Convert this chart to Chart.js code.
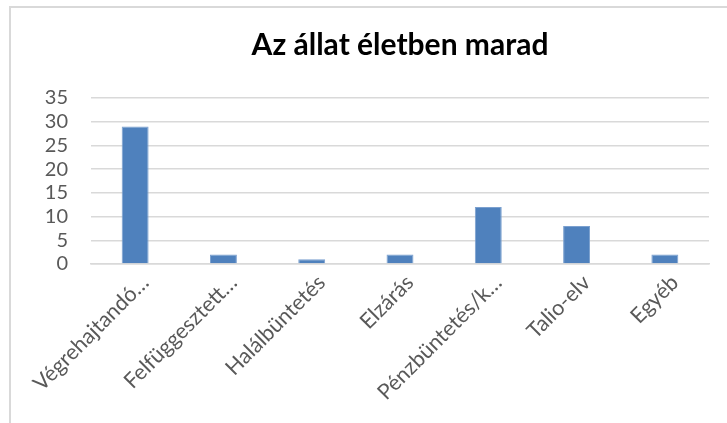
<!DOCTYPE html>
<html>
<head>
<meta charset="utf-8">
<script src="https://cdn.jsdelivr.net/npm/chart.js@4.4.1/dist/chart.umd.min.js"></script>
<style>
  html, body { margin: 0; padding: 0; background: #fff; }
  #wrap { position: absolute; left: 0; top: 0; width: 727px; height: 423px; overflow: hidden; }
  #frame { position: absolute; left: 9px; top: 6px; width: 800px; height: 500px;
           border-left: 2px solid #d9d9d9; border-top: 2px solid #d9d9d9; }
  canvas { position: absolute; left: 0; top: 0; }
</style>
</head>
<body>
<div id="wrap">
  <div id="frame"></div>
  <canvas id="c" width="727" height="423"></canvas>
</div>
<script>
const chartTitle = "Az állat életben marad";
const categories = ["Végrehajtandó…", "Felfüggesztett…", "Halálbüntetés", "Elzárás", "Pénzbüntetés/k…", "Talio-elv", "Egyéb"];
const values = [29, 2, 1, 2, 12, 8, 2];
const yTicks = [0, 5, 10, 15, 20, 25, 30, 35];

const FONT = "Lato, 'Open Sans', sans-serif";

new Chart(document.getElementById('c'), {
  type: 'bar',
  data: {
    labels: categories,
    datasets: [{
      data: values,
      backgroundColor: '#4f81bd',
      borderColor: '#7ba0cf',
      borderWidth: 1,
      categoryPercentage: 1.0,
      barPercentage: 0.305
    }]
  },
  options: {
    responsive: false,
    animation: false,
    devicePixelRatio: 1,
    layout: { padding: { left: 31, right: 18, top: 0, bottom: 0 } },
    plugins: {
      legend: { display: false },
      tooltip: { enabled: false },
      title: {
        display: true,
        fullSize: false,
        text: chartTitle,
        color: '#000000',
        font: { family: FONT, size: 30, weight: 'bold', lineHeight: 1.2 },
        padding: { top: 27, bottom: 35 }
      }
    },
    scales: {
      x: {
        grid: { display: false, drawTicks: false },
        border: { display: true, color: '#d9d9d9', width: 1.5 },
        ticks: {
          color: '#595959',
          font: { family: FONT, size: 21.5 },
          maxRotation: 45,
          minRotation: 45,
          autoSkip: false,
          padding: 6,
          labelOffset: 10
        },
        afterFit: (s) => { s.height = 159; }
      },
      y: {
        min: 0,
        max: 35,
        afterBuildTicks: (s) => { s.ticks = yTicks.map(v => ({ value: v })); },
        grid: { color: '#d9d9d9', lineWidth: 1.5, drawTicks: false },
        border: { display: false },
        ticks: {
          color: '#595959',
          font: { family: FONT, size: 20 },
          padding: 23,
          autoSkip: false,
          stepSize: 5
        },
        afterFit: (s) => { s.width = 60; }
      }
    }
  }
});
</script>
</body>
</html>
